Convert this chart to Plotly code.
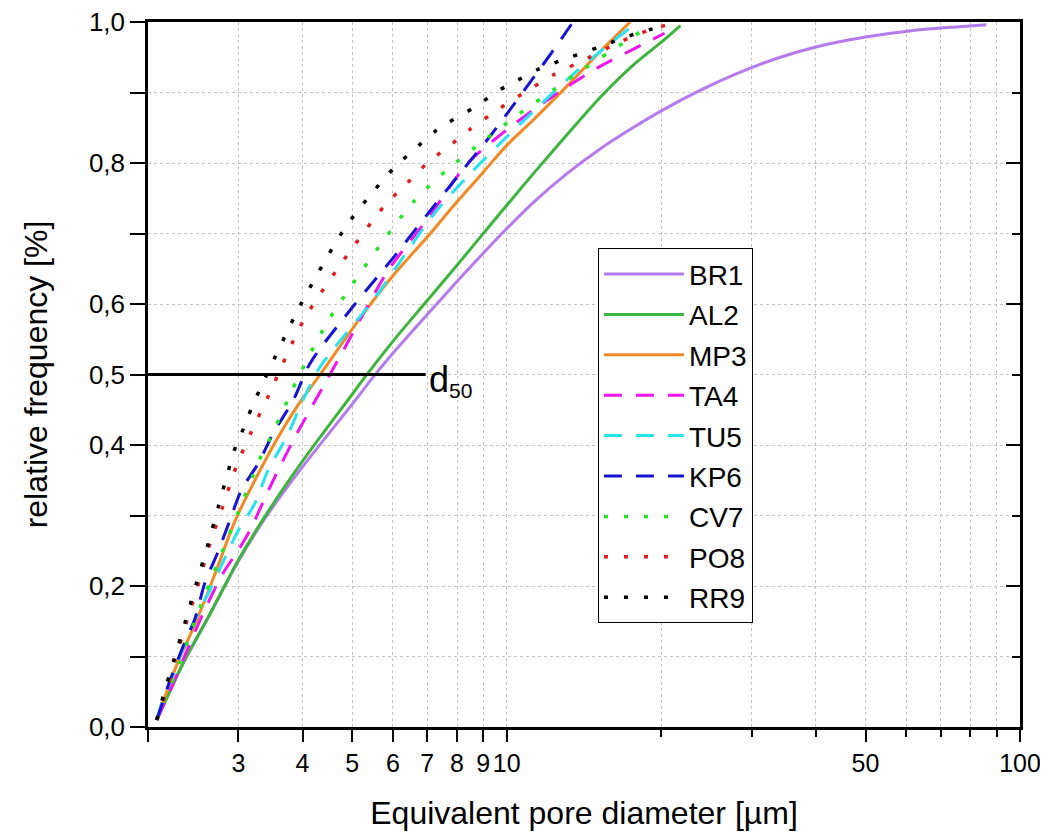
import math
import plotly.graph_objects as go

# ---------------- data ----------------
series_names = ["BR1", "AL2", "MP3", "TA4", "TU5", "KP6", "CV7", "PO8", "RR9"]

br1_x = [2.08, 2.34, 2.64, 3.0, 3.41, 4.0, 5.0, 5.5, 6.0, 7.0, 8.0, 9.0, 10.0, 11.3, 13.1, 15.2, 17.7, 20.0, 23.8, 27.7, 34.1, 40.2, 50.4, 62.0, 75.0, 86.0]
br1_y = [0.01, 0.09, 0.16, 0.235, 0.30, 0.369, 0.458, 0.497, 0.530, 0.585, 0.632, 0.672, 0.707, 0.745, 0.785, 0.820, 0.851, 0.874, 0.903, 0.925, 0.950, 0.965, 0.979, 0.988, 0.993, 0.996]

al2_x = [2.08, 2.34, 2.64, 3.0, 3.41, 4.0, 5.0, 5.3, 6.0, 7.0, 8.0, 9.0, 10.0, 11.3, 13.1, 15.2, 17.7, 19.9, 21.8]
al2_y = [0.01, 0.09, 0.16, 0.237, 0.303, 0.377, 0.472, 0.497, 0.547, 0.605, 0.655, 0.700, 0.740, 0.786, 0.840, 0.893, 0.940, 0.970, 0.995]

mp3_x = [2.08, 2.27, 2.49, 2.72, 2.89, 3.0, 3.21, 3.56, 3.90, 4.33, 5.18, 6.0, 7.0, 8.0, 9.0, 10.0, 11.3, 13.1, 15.2, 17.4]
mp3_y = [0.01, 0.086, 0.152, 0.223, 0.275, 0.303, 0.346, 0.407, 0.454, 0.50, 0.58, 0.64, 0.695, 0.745, 0.787, 0.825, 0.862, 0.909, 0.958, 1.0]

ta4_x = [2.08, 2.21, 2.34, 2.56, 2.80, 3.0, 3.16, 3.46, 3.84, 4.46, 4.81, 5.84, 6.29, 7.0, 8.4, 9.8, 11.3, 13.1, 15.2, 17.7, 20.3]
ta4_y = [0.01, 0.052, 0.095, 0.161, 0.218, 0.251, 0.279, 0.341, 0.407, 0.492, 0.535, 0.645, 0.677, 0.72, 0.80, 0.842, 0.876, 0.908, 0.937, 0.962, 0.984]

tu5_x = [2.08, 2.14, 2.26, 2.43, 2.64, 2.85, 3.0, 3.23, 3.43, 3.73, 3.98, 4.33, 5.5, 6.29, 7.31, 8.49, 9.71, 11.3, 13.1, 15.2, 17.6]
tu5_y = [0.01, 0.04, 0.081, 0.142, 0.194, 0.246, 0.279, 0.317, 0.365, 0.412, 0.459, 0.511, 0.606, 0.667, 0.733, 0.785, 0.828, 0.874, 0.918, 0.958, 0.995]

kp6_x = [2.08, 2.21, 2.34, 2.47, 2.58, 2.74, 2.89, 3.04, 3.28, 3.51, 3.84, 4.14, 5.0, 6.0, 7.0, 8.0, 9.28, 10.3, 11.3, 12.33, 13.4]
kp6_y = [0.01, 0.067, 0.114, 0.154, 0.204, 0.249, 0.294, 0.336, 0.374, 0.417, 0.464, 0.516, 0.595, 0.665, 0.727, 0.78, 0.838, 0.882, 0.922, 0.96, 0.998]

cv7_x = [2.08, 2.31, 2.53, 3.0, 3.33, 3.46, 3.73, 3.87, 4.46, 4.92, 5.75, 6.58, 7.64, 8.74, 10.4, 11.8, 13.7, 15.9, 18.2, 19.0]
cv7_y = [0.01, 0.093, 0.171, 0.305, 0.386, 0.41, 0.461, 0.487, 0.573, 0.62, 0.69, 0.745, 0.79, 0.824, 0.866, 0.894, 0.927, 0.958, 0.986, 0.995]

po8_x = [2.08, 2.15, 2.26, 2.38, 2.50, 2.64, 2.80, 2.97, 3.19, 3.45, 4.02, 4.92, 5.79, 6.39, 7.0, 7.76, 8.49, 9.71, 10.94, 12.33, 14.32, 16.64, 19.04, 21.0]
po8_y = [0.01, 0.04, 0.095, 0.15, 0.2, 0.26, 0.314, 0.369, 0.421, 0.473, 0.577, 0.672, 0.740, 0.771, 0.80, 0.825, 0.848, 0.878, 0.902, 0.925, 0.948, 0.972, 0.989, 0.998]

rr9_x = [2.08, 2.14, 2.25, 2.37, 2.49, 2.62, 2.75, 2.89, 2.97, 3.08, 3.18, 3.30, 3.96, 4.81, 5.36, 6.03, 6.58, 7.25, 7.64, 8.6, 9.71, 10.3, 11.6, 13.3, 15.2, 17.1, 19.8]
rr9_y = [0.01, 0.043, 0.097, 0.152, 0.206, 0.26, 0.316, 0.372, 0.40, 0.426, 0.452, 0.478, 0.598, 0.705, 0.750, 0.793, 0.818, 0.845, 0.856, 0.878, 0.904, 0.914, 0.934, 0.950, 0.965, 0.979, 0.993]

d50_level = 0.5
d50_x = [2.0, 6.95]

x_tick_vals = [2, 3, 4, 5, 6, 7, 8, 9, 10, 50, 100]
x_tick_text = ["", "3", "4", "5", "6", "7", "8", "9", "10", "50", "100"]
x_minor_vals = [20, 30, 40, 60, 70, 80, 90]

y_tick_vals = [0.0, 0.1, 0.2, 0.3, 0.4, 0.5, 0.6, 0.7, 0.8, 0.9, 1.0]
y_tick_text = ["0,0", "", "0,2", "", "0,4", "0,5", "0,6", "", "0,8", "", "1,0"]
y2_major_vals = [0.0, 0.2, 0.4, 0.6, 0.8, 1.0]
y2_minor_vals = [0.1, 0.3, 0.5, 0.7, 0.9]

# ---------------- styles ----------------
FONT = "Liberation Sans, Arial, sans-serif"
DASH = "18px,14px"
DOT = "4px,16px"
styles = {
    "BR1": dict(color="#B57BEE", dash="solid", width=3),
    "AL2": dict(color="#3DB43D", dash="solid", width=3),
    "MP3": dict(color="#F28A24", dash="solid", width=3),
    "TA4": dict(color="#F014F0", dash=DASH, width=3),
    "TU5": dict(color="#28E2F0", dash=DASH, width=3),
    "KP6": dict(color="#1414D2", dash=DASH, width=3),
    "CV7": dict(color="#22E622", dash=DOT, width=3.5),
    "PO8": dict(color="#E01E1E", dash=DOT, width=3.5),
    "RR9": dict(color="#000000", dash=DOT, width=3.5),
}
data = {
    "BR1": (br1_x, br1_y), "AL2": (al2_x, al2_y), "MP3": (mp3_x, mp3_y),
    "TA4": (ta4_x, ta4_y), "TU5": (tu5_x, tu5_y), "KP6": (kp6_x, kp6_y),
    "CV7": (cv7_x, cv7_y), "PO8": (po8_x, po8_y), "RR9": (rr9_x, rr9_y),
}

fig = go.Figure()
for name in series_names:
    xs, ys = data[name]
    fig.add_trace(go.Scatter(
        x=xs, y=ys, mode="lines", name=name, legendgroup=name,
        line=dict(shape="spline", smoothing=0.8, **styles[name]),
    ))

# d50 reference line (on the mirrored right-hand axis, same range)
fig.add_trace(go.Scatter(
    x=d50_x, y=[d50_level, d50_level], mode="lines", showlegend=False,
    line=dict(color="black", width=3), yaxis="y2", hoverinfo="skip",
))

fig.add_annotation(
    x=math.log10(7.0), y=d50_level, xref="x", yref="y",
    text='<span style="font-size:36px">d</span><sub>50</sub>',
    showarrow=False, xanchor="left", yanchor="middle", yshift=-6,
    font=dict(family=FONT, size=30, color="black"),
)

grid = dict(showgrid=True, gridcolor="#c4c4c4", gridwidth=1, griddash="dot")

# the page body adds an 8 px offset, so the figure is 8 px smaller and margins compensate
fig.update_layout(
    width=1040, height=829,
    margin=dict(l=140, r=28, t=14, b=110),
    paper_bgcolor="white", plot_bgcolor="white",
    font=dict(family=FONT, color="black"),
    showlegend=True,
    legend=dict(
        x=0.516, y=0.679, xanchor="left", yanchor="top",
        bordercolor="black", borderwidth=1, bgcolor="white",
        font=dict(family=FONT, size=28), tracegroupgap=1, itemwidth=80,
    ),
    xaxis=dict(
        type="log", range=[math.log10(2), 2], automargin=False,
        showline=True, linecolor="black", linewidth=2.5, mirror=True,
        ticks="outside", ticklen=12, tickwidth=2, tickcolor="black",
        tickvals=x_tick_vals, ticktext=x_tick_text,
        tickfont=dict(size=25), ticklabelstandoff=0, ticklabeloverflow="allow",
        minor=dict(tickvals=x_minor_vals, ticks="outside", ticklen=7, tickwidth=2,
                   tickcolor="black", **grid),
        title=dict(text="Equivalent pore diameter [µm]", font=dict(size=32), standoff=26),
        zeroline=False, **grid,
    ),
    yaxis=dict(
        range=[0, 1], automargin=False,
        showline=True, linecolor="black", linewidth=2.5, mirror=True,
        ticks="outside", ticklen=15, tickwidth=2, tickcolor="black",
        tickvals=y_tick_vals, ticktext=y_tick_text,
        tickfont=dict(size=26), ticklabeloverflow="allow",
        title=dict(text="relative frequency [%]", font=dict(size=32), standoff=32),
        zeroline=False, **grid,
    ),
    yaxis2=dict(
        range=[0, 1], overlaying="y", side="right", automargin=False,
        showline=False, showgrid=False, zeroline=False, showticklabels=False,
        ticks="inside", ticklen=14, tickwidth=2, tickcolor="black",
        tickvals=y2_major_vals,
        minor=dict(tickvals=y2_minor_vals, ticks="inside", ticklen=8, tickwidth=2,
                   tickcolor="black", showgrid=False),
    ),
)

fig.write_html("out.html")
